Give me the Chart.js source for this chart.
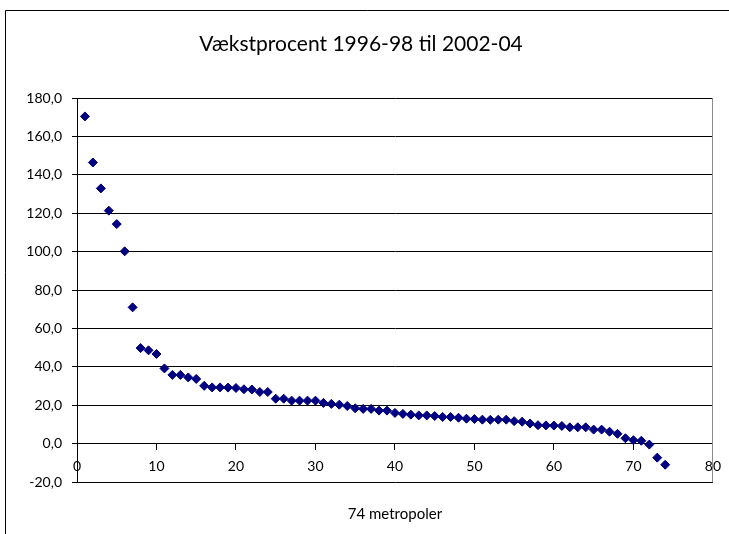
<!DOCTYPE html>
<html>
<head>
<meta charset="utf-8">
<title>Vækstprocent</title>
<script src="https://cdn.jsdelivr.net/npm/chart.js@4/dist/chart.umd.min.js"></script>
<style>
  html, body { margin: 0; padding: 0; background: #fff; }
  #vaekst { display: block; }
</style>
</head>
<body>
<canvas id="vaekst" width="729" height="534"></canvas>
<script>
// vækstprocent pr. metropol, sorteret fra højeste til laveste
var vaekstProcent = [
    170.5, 146.5, 133.0, 121.4, 114.4, 100.2, 71.0, 49.8, 48.6, 46.7,
    39.2, 35.8, 35.8, 34.5, 33.7, 30.1, 29.3, 29.3, 29.2, 29.0,
    28.3, 28.2, 26.9, 26.9, 23.4, 23.4, 22.4, 22.4, 22.4, 22.4,
    21.2, 20.7, 20.3, 19.6, 18.4, 18.1, 18.1, 17.2, 17.2, 16.0,
    15.5, 15.1, 14.7, 14.7, 14.4, 13.9, 13.9, 13.5, 13.0, 12.8,
    12.5, 12.4, 12.5, 12.5, 11.7, 11.4, 10.5, 9.6, 9.5, 9.4,
    9.2, 8.5, 8.5, 8.5, 7.3, 7.3, 6.2, 5.1, 2.8, 1.8,
    1.5, -0.5, -7.3, -11.0
];
var xTicks = [0, 10, 20, 30, 40, 50, 60, 70, 80];
var yTicks = [-20, 0, 20, 40, 60, 80, 100, 120, 140, 160, 180];
var titel = 'Vækstprocent 1996-98 til 2002-04';
var xTitel = '74 metropoler';

// metropol nr. 1..74 langs x
var punkter = vaekstProcent.map(function(v, i){
    return {x: i + 1, y: v};
});

// ramme om hele diagrammet og grå kant til højre om plotområdet
var rammePlugin = {
    id: 'ramme',
    beforeDraw: function(chart){
        var ctx = chart.ctx;
        ctx.save();
        ctx.fillStyle = '#fff';
        ctx.fillRect(0, 0, chart.width, chart.height);
        ctx.strokeStyle = '#000';
        ctx.lineWidth = 1;
        ctx.beginPath();
        ctx.moveTo(5.5, chart.height);
        ctx.lineTo(5.5, 10.5);
        ctx.lineTo(chart.width, 10.5);
        ctx.stroke();
        ctx.restore();
    },
    beforeDatasetsDraw: function(chart){
        var a = chart.chartArea;
        var ctx = chart.ctx;
        ctx.save();
        ctx.strokeStyle = '#8c8c8c';
        ctx.lineWidth = 1;
        ctx.beginPath();
        ctx.moveTo(Math.round(a.right) - 0.5, a.top);
        ctx.lineTo(Math.round(a.right) - 0.5, a.bottom);
        ctx.stroke();
        ctx.restore();
    }
};

var chart = new Chart(document.getElementById('vaekst'), {
    type: 'scatter',
    data: {
        datasets: [{
            data: punkter,
            pointStyle: 'rectRot',
            pointRadius: 4.5,
            backgroundColor: '#000080',
            borderColor: '#000080',
            borderWidth: 1
        }]
    },
    options: {
        responsive: false,
        devicePixelRatio: 1,
        animation: false,
        layout: {padding: {left: 6, right: 13, top: 0, bottom: 0}},
        plugins: {
            legend: {display: false},
            tooltip: {enabled: false},
            title: {
                display: true,
                text: titel,
                color: '#000',
                font: {family: 'Lato', size: 21, weight: 'normal'},
                padding: {top: 32, bottom: 41}
            },
            subtitle: {
                display: true,
                text: xTitel,
                position: 'bottom',
                fullSize: false,
                color: '#000',
                font: {family: 'Lato', size: 15, weight: 'normal'},
                padding: {top: 23, bottom: 11}
            }
        },
        scales: {
            x: {
                type: 'linear',
                position: {y: 0},
                min: 0,
                max: 80,
                afterBuildTicks: function(s){
                    s.ticks = xTicks.map(function(v){ return {value: v}; });
                },
                grid: {drawOnChartArea: false, drawTicks: true, tickLength: 6, color: '#000'},
                border: {display: true, color: '#000'},
                ticks: {padding: 8, color: '#000', font: {family: 'Lato', size: 14}, maxRotation: 0, autoSkip: false}
            },
            y: {
                type: 'linear',
                min: -20,
                max: 180,
                afterBuildTicks: function(s){
                    s.ticks = yTicks.map(function(v){ return {value: v}; });
                },
                afterFit: function(s){
                    s.width = 71;
                },
                grid: {color: '#000', tickLength: 5},
                border: {color: '#000'},
                ticks: {
                    padding: 10,
                    color: '#000',
                    font: {family: 'Lato', size: 14},
                    callback: function(v){
                        return v.toFixed(1).replace('.', ',');
                    }
                }
            }
        }
    },
    plugins: [rammePlugin]
});
</script>
</body>
</html>
